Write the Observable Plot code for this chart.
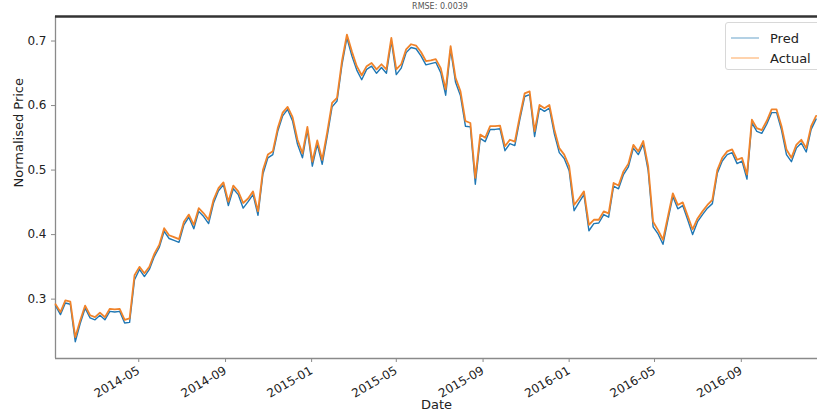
<!DOCTYPE html>
<html>
<head>
<meta charset="utf-8">
<script src="https://cdn.jsdelivr.net/npm/d3@7"></script>
<script src="https://cdn.jsdelivr.net/npm/@observablehq/plot@0.6"></script>
<style>
  body { margin: 0; background: #fff; }
  #wrap { position: relative; width: 817px; height: 417px; overflow: hidden; font-family: "DejaVu Sans", sans-serif; }
  #wrap svg { position: absolute; left: 0; top: 0; }
  #title { position: absolute; top: 2px; left: 55px; width: 770px; text-align: center; font-size: 8px; color: #555; z-index: 2; }
  #legend { position: absolute; left: 725px; top: 22px; width: 110px; height: 46px; border: 1px solid #d8d8d8; border-radius: 3px; background: rgba(255,255,255,0.85); z-index: 2; }
  #legend .row { position: absolute; left: 0; height: 16px; display: flex; align-items: center; }
  #legend .row span { font-size: 13px; color: #222; margin-left: 11px; }
</style>
</head>
<body>
<div id="wrap">
  <div id="title">RMSE: 0.0039</div>
  <div id="legend"></div>
</div>
<script>
// Weekly closing values, normalised, starting on the first week of 2014
const weekStart = "2014-01-03";

const actual = [
  0.292, 0.280, 0.298, 0.296, 0.241, 0.267, 0.290, 0.275, 0.272, 0.279,
  0.272, 0.285, 0.284, 0.285, 0.268, 0.270, 0.337, 0.350, 0.340, 0.350,
  0.370, 0.384, 0.410, 0.399, 0.396, 0.393, 0.420, 0.431, 0.415, 0.441,
  0.433, 0.423, 0.454, 0.472, 0.481, 0.451, 0.476, 0.467, 0.449, 0.456,
  0.467, 0.436, 0.500, 0.524, 0.529, 0.565, 0.589, 0.598, 0.582, 0.547,
  0.526, 0.567, 0.513, 0.546, 0.516, 0.558, 0.604, 0.612, 0.669, 0.710,
  0.684, 0.661, 0.647, 0.661, 0.666, 0.656, 0.664, 0.656, 0.705, 0.656,
  0.664, 0.687, 0.695, 0.693, 0.683, 0.669, 0.670, 0.672, 0.658, 0.625,
  0.692, 0.643, 0.622, 0.576, 0.573, 0.488, 0.555, 0.550, 0.568, 0.568,
  0.569, 0.537, 0.547, 0.544, 0.583, 0.619, 0.622, 0.560, 0.601, 0.596,
  0.601, 0.563, 0.534, 0.524, 0.506, 0.446, 0.456, 0.467, 0.415, 0.423,
  0.423, 0.436, 0.433, 0.480, 0.476, 0.498, 0.510, 0.539, 0.529, 0.545,
  0.506, 0.420, 0.407, 0.392, 0.428, 0.464, 0.446, 0.450, 0.429, 0.408,
  0.425, 0.436, 0.446, 0.454, 0.500, 0.519, 0.529, 0.532, 0.516, 0.519,
  0.493, 0.578, 0.565, 0.562, 0.576, 0.594, 0.594, 0.568, 0.532, 0.519,
  0.539, 0.547, 0.534, 0.568, 0.584
];

const pred = [
  0.290, 0.276, 0.294, 0.292, 0.234, 0.262, 0.286, 0.271, 0.268, 0.275,
  0.268, 0.281, 0.280, 0.281, 0.263, 0.264, 0.330, 0.346, 0.335, 0.346,
  0.366, 0.380, 0.405, 0.394, 0.391, 0.388, 0.415, 0.427, 0.409, 0.436,
  0.428, 0.417, 0.449, 0.468, 0.477, 0.445, 0.471, 0.462, 0.441, 0.451,
  0.462, 0.430, 0.494, 0.519, 0.524, 0.560, 0.584, 0.594, 0.576, 0.540,
  0.519, 0.562, 0.506, 0.540, 0.509, 0.552, 0.598, 0.607, 0.663, 0.705,
  0.677, 0.655, 0.640, 0.656, 0.661, 0.650, 0.659, 0.650, 0.700, 0.648,
  0.658, 0.682, 0.690, 0.688, 0.677, 0.663, 0.665, 0.667, 0.651, 0.616,
  0.687, 0.636, 0.615, 0.568, 0.567, 0.478, 0.549, 0.544, 0.563, 0.563,
  0.564, 0.530, 0.541, 0.538, 0.578, 0.614, 0.617, 0.552, 0.596, 0.591,
  0.596, 0.556, 0.527, 0.518, 0.499, 0.437, 0.450, 0.462, 0.406, 0.417,
  0.418, 0.431, 0.427, 0.475, 0.471, 0.493, 0.505, 0.534, 0.524, 0.540,
  0.499, 0.412, 0.401, 0.385, 0.423, 0.459, 0.440, 0.445, 0.423, 0.400,
  0.420, 0.431, 0.441, 0.448, 0.495, 0.514, 0.524, 0.527, 0.510, 0.514,
  0.486, 0.573, 0.560, 0.557, 0.571, 0.589, 0.589, 0.562, 0.524, 0.513,
  0.534, 0.542, 0.528, 0.563, 0.579
];

const tickMonths = ["2014-05", "2014-09", "2015-01", "2015-05", "2015-09", "2016-01", "2016-05", "2016-09"];
const yTicks = [0.3, 0.4, 0.5, 0.6, 0.7];
const xRange = ["2014-01-03", "2016-12-18"];
const yRange = [0.208, 0.738];

const series = [
  {name: "Pred", color: "#1f77b4"},
  {name: "Actual", color: "#ff7f0e"}
];

const parseDay = d3.utcParse("%Y-%m-%d");
const parseMonth = d3.utcParse("%Y-%m");
const start = parseDay(weekStart);
const rows = actual.map((a, i) => ({date: d3.utcDay.offset(start, 7 * i), actual: a, pred: pred[i]}));
const xDomain = xRange.map(parseDay);
const xTicks = tickMonths.map(parseMonth);

const chart = Plot.plot({
  width: 817,
  height: 417,
  marginLeft: 55,
  marginRight: 0,
  marginTop: 16,
  marginBottom: 59,
  style: {fontFamily: "DejaVu Sans, sans-serif", fontSize: "12px", color: "#222", background: "transparent"},
  x: {type: "utc", domain: xDomain},
  y: {domain: yRange},
  marks: [
    Plot.ruleX([xDomain[0]], {stroke: "#8a8a8a", strokeWidth: 1.3}),
    Plot.ruleY([yRange[0]], {stroke: "#8a8a8a", strokeWidth: 1.3}),
    Plot.ruleY([yRange[1]], {stroke: "#333", strokeWidth: 2.5}),
    Plot.lineY(rows, {x: "date", y: "pred", stroke: series[0].color, strokeWidth: 1.4}),
    Plot.lineY(rows, {x: "date", y: "actual", stroke: "#f0832a", strokeWidth: 1.8}),
    Plot.axisY({ticks: yTicks, tickFormat: d3.format(".1f"), tickSize: 4, tickPadding: 5, label: null, stroke: "#8a8a8a", fill: "#222"}),
    Plot.axisX({ticks: xTicks, tickFormat: d3.utcFormat("%Y-%m"), tickRotate: -30, tickSize: 4, tickPadding: 7, label: null, stroke: "#8a8a8a", fill: "#222"}),
    Plot.text(["Normalised Price"], {frameAnchor: "left", rotate: -90, dx: -37, fontSize: 13, fill: "#222"}),
    Plot.text(["Date"], {frameAnchor: "bottom", dy: 50, fontSize: 13, fill: "#222"})
  ]
});

const wrap = document.getElementById("wrap");
wrap.insertBefore(chart, wrap.firstChild);

// legend entries
const legend = document.getElementById("legend");
series.forEach((s, i) => {
  const row = document.createElement("div");
  row.className = "row";
  row.style.top = (7 + i * 20) + "px";
  const sw = d3.create("svg").attr("width", 33).attr("height", 16).style("position", "static");
  sw.append("line").attr("x1", 5).attr("x2", 33).attr("y1", 8).attr("y2", 8)
    .attr("stroke", s.color).attr("stroke-width", 1.5).attr("stroke-opacity", 0.45);
  row.appendChild(sw.node());
  const label = document.createElement("span");
  label.textContent = s.name;
  row.appendChild(label);
  legend.appendChild(row);
});
</script>
</body>
</html>
